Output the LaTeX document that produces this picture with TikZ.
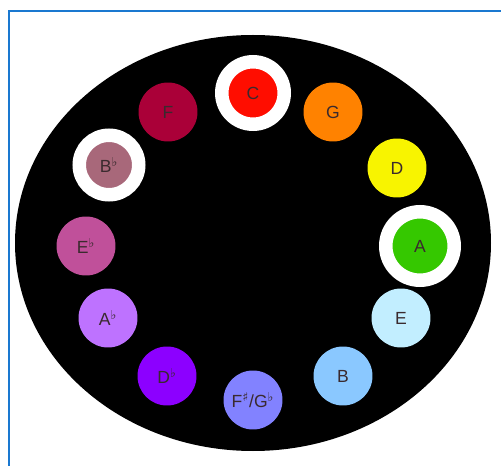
\documentclass[tikz,border=0pt]{standalone}
\usepackage{fontspec}
\setmainfont{Liberation Sans}
\newfontfamily\musicfont{DejaVu Sans}
\usepackage{tikz}
\definecolor{FrameBlue}{HTML}{1A78D0}
\definecolor{NoteC}{HTML}{FF0D00}
\definecolor{NoteG}{HTML}{FF8200}
\definecolor{NoteD}{HTML}{F8F400}
\definecolor{NoteA}{HTML}{35C800}
\definecolor{NoteE}{HTML}{C2EEFF}
\definecolor{NoteB}{HTML}{8AC8FF}
\definecolor{NoteFs}{HTML}{8282FF}
\definecolor{NoteDb}{HTML}{8C00FF}
\definecolor{NoteAb}{HTML}{BE72FF}
\definecolor{NoteEb}{HTML}{C0509A}
\definecolor{NoteBb}{HTML}{A8687A}
\definecolor{NoteF}{HTML}{AA0038}
\definecolor{LabelDark}{HTML}{3A2A2E}
\newcommand{\flt}{\textsuperscript{\musicfont ♭}}
\newcommand{\shp}{\textsuperscript{\musicfont ♯}}
\tikzset{
  notenode/.style={
    circle,draw=none,minimum size=1.18cm,inner sep=0pt,
    font=\fontsize{10}{12}\selectfont,text=LabelDark
  },
  ringnode/.style={
    notenode,draw=white,line width=0.27cm
  },
}
\begin{document}
\begin{tikzpicture}[x=0.02cm,y=-0.02cm]
  \useasboundingbox (0,0) rectangle (501,466);
  % frame and dial
  \draw[line width=0.04cm, draw=FrameBlue] (9,470) -- (9,11) -- (505,11);
  \fill[black] (253,243) ellipse [x radius=238, y radius=208];
  % notes, circle of fifths
  \node[ringnode, fill=NoteC, minimum size=1.25cm] (nC) at (253,93) {C};
  \node[notenode, fill=NoteG] (nG) at (333,112) {G};
  \node[notenode, fill=NoteD] (nD) at (397,168) {D};
  \node[ringnode, fill=NoteA, minimum size=1.37cm] (nA) at (420,246) {A};
  \node[notenode, fill=NoteE] (nE) at (401,318) {E};
  \node[notenode, fill=NoteB] (nB) at (343,376) {B};
  \node[notenode, fill=NoteFs] (nFs) at (253,400) {F\shp/G\flt};
  \node[notenode, fill=NoteDb] (nDb) at (167,376) {D\flt};
  \node[notenode, fill=NoteAb] (nAb) at (108,318) {A\flt};
  \node[notenode, fill=NoteEb] (nEb) at (86,246) {E\flt};
  \node[ringnode, fill=NoteBb, minimum size=1.19cm] (nBb) at (109,165) {B\flt};
  \node[notenode, fill=NoteF] (nF) at (168,112) {F};
\end{tikzpicture}
\end{document}
